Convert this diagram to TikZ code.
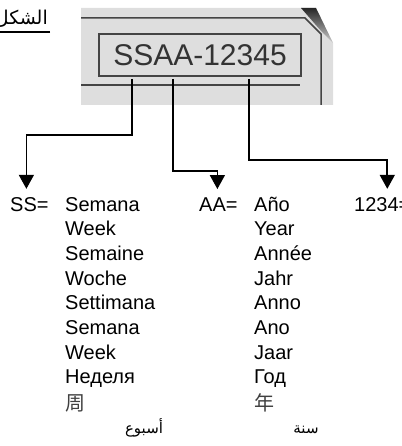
\documentclass[tikz,border=0pt]{standalone}
\usepackage{fontspec}
\setmainfont{Liberation Sans}
\newfontfamily\cjk{Noto Sans CJK SC}
\newfontfamily\arabicfont[Script=Arabic]{DejaVu Sans}
\TeXXeTstate=1
\usepackage{tikz}
\usetikzlibrary{arrows.meta,positioning,calc}
\definecolor{plateface}{HTML}{DEDEDE}
\definecolor{plateline}{HTML}{444444}
\definecolor{plateink}{HTML}{333333}

\begin{document}
\begin{tikzpicture}[
  x=1pt, y=-1pt,
  word/.style={inner sep=0pt, anchor=base west, text=black,
    font=\fontsize{20}{24}\selectfont},
  cjkword/.style={word, text=black!75, font=\fontsize{20}{24}\selectfont\cjk},
  arword/.style={inner sep=0pt, anchor=base, text=black,
    font=\fontsize{15}{18}\selectfont\arabicfont},
  codebox/.style={draw=plateline, line width=1.5pt, fill=plateface,
    minimum width=202pt, minimum height=42pt, inner sep=0pt,
    text=plateink, font=\fontsize{30}{36}\selectfont},
  feed/.style={-{Triangle[length=14pt,width=15pt]}, line width=1.6pt, draw=black},
  rule/.style={line width=1.5pt, draw=plateline}
]
  \useasboundingbox (0,0) rectangle (401,446);

  % the label plate
  \fill[plateface] (81,8) -- (316,8) -- (333,43) -- (333,105) -- (81,105) -- cycle;
  \shade[top color=black!85, bottom color=black!20]
    (301,8) -- (316,8) -- (333,43) -- (322,32) -- cycle;
  \draw[rule] (81,18) -- (305,18) -- (321,34) -- (321,105);
  \draw[rule] (81,85) -- (300,85);
  \node[codebox] (code) at (200,55) {SSAA-12345};

  % caption
  \node[inner sep=0pt, anchor=base east, font=\fontsize{19}{24}\selectfont\arabicfont]
    (title) at (48,25) {\beginR الشكل\endR};
  \draw[line width=1.2pt] (title.base east |- 0,32) ++(2,0) -- (0,32);

  % field heads
  \node[word] (ss) at (10,211) {SS=};
  \node[word] (aa) at (199,211) {AA=};
  \node[word] (nn) at (354,211) {1234=};

  % taps under the code
  \coordinate (tapss) at (132,79);
  \coordinate (tapaa) at (173,79);
  \coordinate (tapnn) at (249,79);

  \draw[feed] (tapss) -- ++(0,56) -| ([xshift=-3pt,yshift=8pt]ss.north);
  \draw[feed] (tapaa) -- ++(0,92) -| ([xshift=-1pt,yshift=8pt]aa.north);
  \draw[feed] (tapnn) -- ++(0,81) -| ([xshift=5pt,yshift=8pt]nn.north);

  % week column
  \foreach \w [count=\i] in {Semana,Week,Semaine,Woche,Settimana,Semana,Week,Неделя}
    \node[word] (wk\i) at (65,{211+24.7*(\i-1)}) {\w};
  \node[cjkword] (wk9) at (65,410) {周};
  \node[arword] (wk10) at (144,433) {\beginR أسبوع\endR};

  % year column
  \foreach \w [count=\i] in {Año,Year,Année,Jahr,Anno,Ano,Jaar,Год}
    \node[word] (yr\i) at (254,{211+24.7*(\i-1)}) {\w};
  \node[cjkword] (yr9) at (254,410) {年};
  \node[arword] (yr10) at (306,433) {\beginR سنة\endR};
\end{tikzpicture}
\end{document}
